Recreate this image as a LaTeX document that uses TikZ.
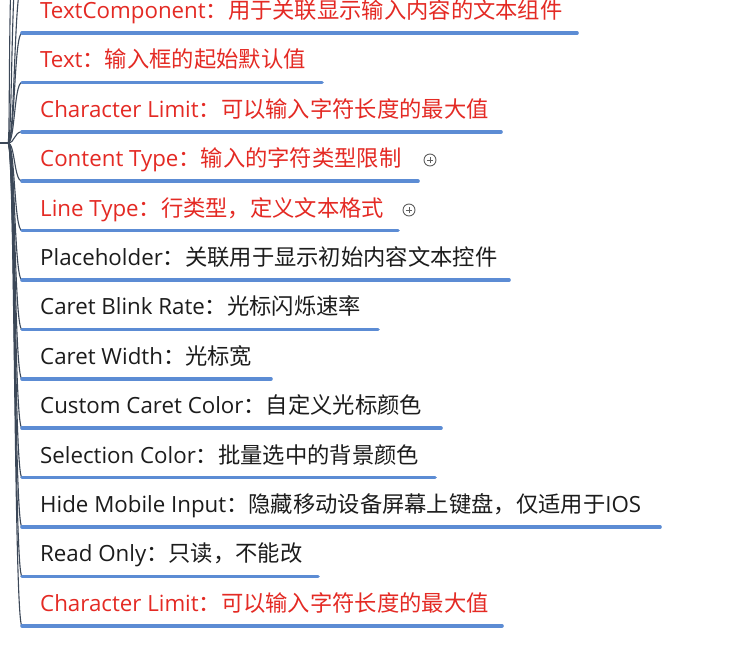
\documentclass[tikz,border=0pt]{standalone}
\usepackage{fontspec}
\setmainfont{Open Sans}
\newfontfamily\cjk{Noto Sans CJK SC}
\definecolor{mmred}{RGB}{228,42,36}
\definecolor{mmblack}{RGB}{28,28,28}
\definecolor{mmblue}{RGB}{92,140,212}
\definecolor{mmconn}{RGB}{60,72,88}
\definecolor{mmicon}{RGB}{95,95,95}
\tikzset{
  lbl/.style={anchor=base west,inner sep=0pt,font=\fontsize{22.3}{26}\selectfont},
  uline/.style={draw=mmblue,line width=3.6pt,line cap=round},
  conn/.style={draw=mmconn,line width=1.1pt},
  plusicon/.style={draw=mmicon,circle,line width=0.9pt,minimum size=12pt,inner sep=0pt}
}
\newcommand\mmrow[5]{%
  \pgfmathsetmacro\yy{33+49.4*(#1-1)}%
  \coordinate (s#1) at (22,\yy);
  \coordinate (e#1) at (#5,\yy);
  \draw[conn] (P) .. controls (15,143) and (14,\yy) .. (s#1);
  \draw[uline] (s#1) -- (e#1);
  \node[lbl,text=#2] (t#1) at (40,\yy-14.5) {#3{\cjk ：#4}};
}
\begin{document}
\begin{tikzpicture}[x=1pt,y=-1pt]
\useasboundingbox (0,0) rectangle (730,648);
\clip (0,0) rectangle (730,648);
\fill[white] (0,0) rectangle (730,648);
\coordinate (P0) at (0,143);
\coordinate (P) at (8,143);
\draw[conn] (P0) -- (P);
% connectors to branches above the visible area
\coordinate (u1) at (22,-16);
\coordinate (u2) at (22,-66);
\coordinate (u3) at (22,-115);
\draw[conn] (P) .. controls (15,143) and (14,-16) .. (u1);
\draw[conn] (P) .. controls (13,143) and (10,-66) .. (u2);
\draw[conn] (P) .. controls (11,143) and (6,-115) .. (u3);
\mmrow{1}{mmred}{TextComponent}{用于关联显示输入内容的文本组件}{577}
\mmrow{2}{mmred}{Text}{输入框的起始默认值}{322}
\mmrow{3}{mmred}{Character Limit}{可以输入字符长度的最大值}{501}
\mmrow{4}{mmred}{Content Type}{输入的字符类型限制}{418}
\mmrow{5}{mmred}{Line Type}{行类型，定义文本格式}{398}
\mmrow{6}{mmblack}{Placeholder}{关联用于显示初始内容文本控件}{509}
\mmrow{7}{mmblack}{Caret Blink Rate}{光标闪烁速率}{378}
\mmrow{8}{mmblack}{Caret Width}{光标宽}{271}
\mmrow{9}{mmblack}{Custom Caret Color}{自定义光标颜色}{441}
\mmrow{10}{mmblack}{Selection Color}{批量选中的背景颜色}{435}
\mmrow{11}{mmblack}{Hide Mobile Input}{隐藏移动设备屏幕上键盘，仅适用于{\rmfamily IOS}}{660}
\mmrow{12}{mmblack}{Read Only}{只读，不能改}{318}
\mmrow{13}{mmred}{Character Limit}{可以输入字符长度的最大值}{502}
% expand icons
\node[plusicon] (x4) at (430,160) {};
\draw[mmicon,line width=0.9pt] ([xshift=-3pt]x4.center) -- ([xshift=3pt]x4.center);
\draw[mmicon,line width=0.9pt] ([yshift=-3pt]x4.center) -- ([yshift=3pt]x4.center);
\node[plusicon] (x5) at (409,210) {};
\draw[mmicon,line width=0.9pt] ([xshift=-3pt]x5.center) -- ([xshift=3pt]x5.center);
\draw[mmicon,line width=0.9pt] ([yshift=-3pt]x5.center) -- ([yshift=3pt]x5.center);
\end{tikzpicture}
\end{document}
